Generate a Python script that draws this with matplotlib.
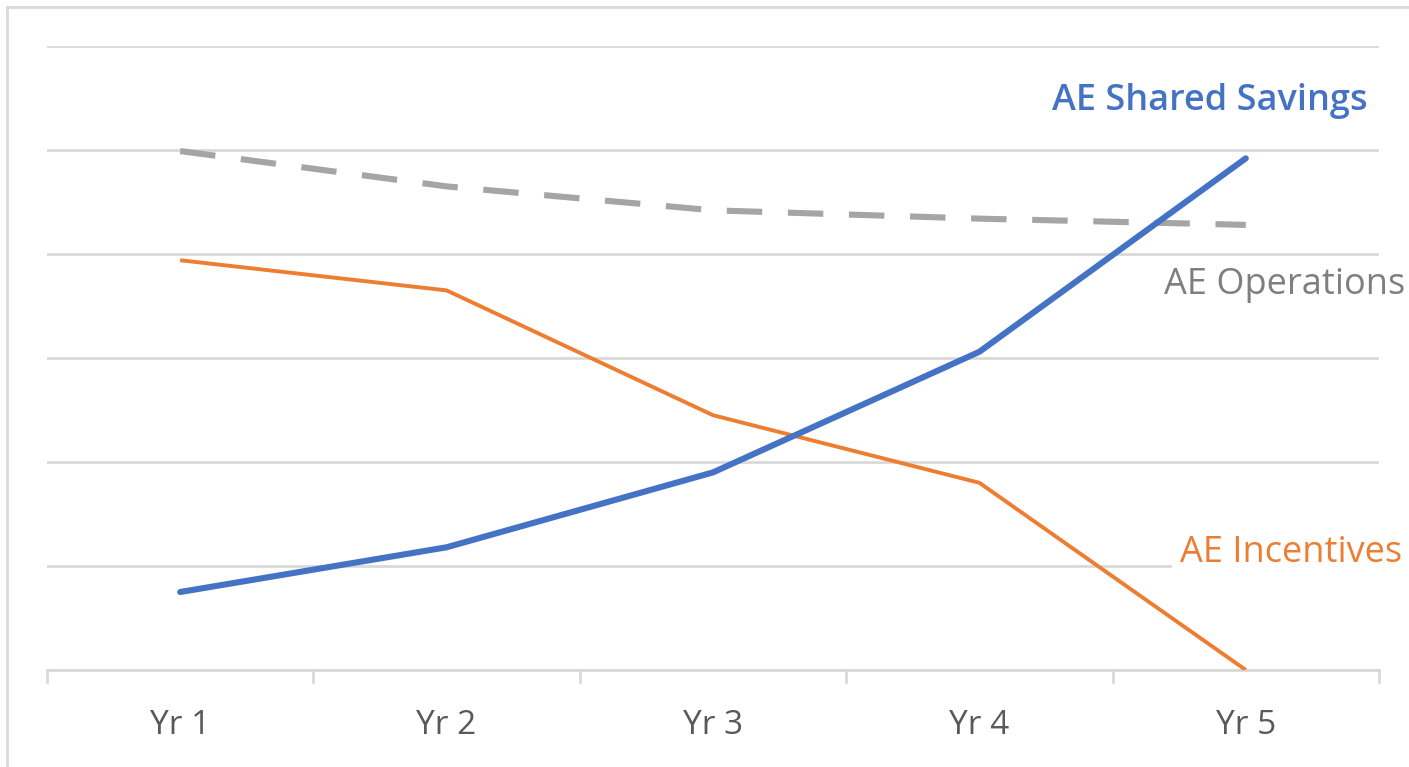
import matplotlib.pyplot as plt
from matplotlib.lines import Line2D

years = ["Yr 1", "Yr 2", "Yr 3", "Yr 4", "Yr 5"]
shared_savings = [0.75, 1.18, 1.90, 3.06, 4.92]
incentives = [3.94, 3.65, 2.45, 1.80, 0.0]
operations = [4.99, 4.65, 4.42, 4.34, 4.28]

BLUE = "#4472C4"
ORANGE = "#ED7D31"
GRAY = "#A5A5A5"
GRID = "#D9D9D9"

plt.rcParams['font.family'] = ['Open Sans', 'DejaVu Sans']

fig = plt.figure(figsize=(14.09, 7.67), dpi=100)
ax = fig.add_axes([47 / 1409, 1 - 670 / 767, (1379 - 47) / 1409, (670 - 46) / 767])

x = list(range(len(years)))
ax.plot(x, operations, color=GRAY, lw=4.4, dashes=(5.8, 4.2), dash_capstyle='butt', zorder=3)
ax.plot(x, incentives, color=ORANGE, lw=2.8, zorder=4, solid_capstyle='butt')
ax.plot(x, shared_savings, color=BLUE, lw=4.4, zorder=5, solid_capstyle='round')

ax.set_xlim(-0.5, len(years) - 0.5)
ax.set_ylim(0, 6)
ax.set_yticks(range(0, 7))
ax.set_yticklabels([])
ax.tick_params(axis='y', length=0)
ax.yaxis.grid(True, color=GRID, lw=2)
ax.set_axisbelow(True)

ax.set_xticks(x)
ax.set_xticklabels(years, fontsize=24, color="#595959")
ax.tick_params(axis='x', length=0, pad=28)
# category boundary ticks
for b in [i - 0.5 for i in range(len(years) + 1)]:
    ax.plot([b, b], [0, -0.12], color=GRID, lw=2, clip_on=False, zorder=1)

for s in ['top', 'right', 'left']:
    ax.spines[s].set_visible(False)
ax.spines['bottom'].set_color(GRID)
ax.spines['bottom'].set_linewidth(2)

# series labels
ax.text(1368 / 1409, 1 - 101 / 767, "AE Shared Savings", transform=fig.transFigure,
        ha='right', va='center', fontsize=26, color=BLUE, fontweight='semibold',
        bbox=dict(fc='white', ec='none', pad=6), zorder=6)
ax.text(1405 / 1409, 1 - 285 / 767, "AE Operations", transform=fig.transFigure,
        ha='right', va='center', fontsize=26, color="#7F7F7F",
        bbox=dict(fc='white', ec='none', pad=6), zorder=6)
ax.text(1402 / 1409, 1 - 553 / 767, "AE Incentives", transform=fig.transFigure,
        ha='right', va='center', fontsize=26, color=ORANGE,
        bbox=dict(fc='white', ec='none', pad=6), zorder=6)

# chart area border (left and top visible)
fig.add_artist(Line2D([7 / 1409, 7 / 1409], [0, 1 - 7 / 767], transform=fig.transFigure, color=GRID, lw=2))
fig.add_artist(Line2D([7 / 1409, 1], [1 - 7 / 767, 1 - 7 / 767], transform=fig.transFigure, color=GRID, lw=2))

fig.savefig("out.png", dpi=100)
